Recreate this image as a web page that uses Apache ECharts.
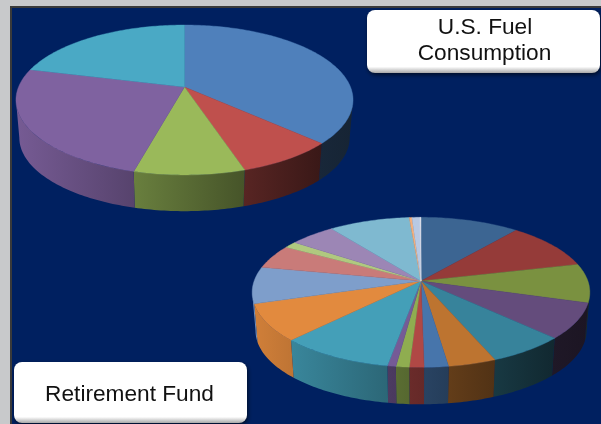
<!DOCTYPE html>
<html>
<head>
<meta charset="utf-8">
<title>U.S. Fuel Consumption and Retirement Fund</title>
<style>
html,body{margin:0;padding:0;background:#c8c9cb}
#chart{width:601px;height:424px}
</style>
<script src="https://cdn.jsdelivr.net/npm/echarts@6/dist/echarts.min.js"></script>
</head>
<body>
<div id="chart"></div>
<script>
// shares, percent of each pie, clockwise from 12 o'clock
const fuelValues = [37, 8.1, 9, 24.9, 21]
const fundValues = [11, 10.3, 8.4, 7.7, 6.5, 4, 2, 1.2, 1.1, 0.7, 9.5, 8, 7.9, 5.2, 1.4, 5.1, 9, 0.3, 0.9, 0.1]

const fuelColors = ['#4f80bb', '#bf504d', '#9ab95a', '#7f62a0', '#4aa9c5']
const fundColors = ['#3c6592', '#953b39', '#7a9140', '#644c7c', '#37839b', '#bd7430',
    '#4775ab', '#b04845', '#8fad50', '#755b96', '#449fb8', '#e28a3e',
    '#7e9ecb', '#c97b79', '#b0c97f', '#9c86b5', '#7fb9d0', '#f5ae78', '#b8c9e3', '#e8e8f0']

// perspective view of a disc: cx, apex y, half width, depth scale, tilt, thickness
const fuelView = {cx: 184.5, ay: 87, s: 166, h: 72.7, k: 0.173, drop: 38, shrink: 0.98}
const fundView = {cx: 421, ay: 281, s: 166.9, h: 73.3, k: 0.151, drop: 38.7, shrink: 0.98}

function project(v, deg, lower) {
    const t = deg * Math.PI / 180
    const w = 1 + v.k * Math.cos(t)
    const f = lower ? v.shrink : 1
    return [v.cx + f * v.s * Math.sin(t) / w, v.ay + (lower ? v.drop : 0) - f * v.h * Math.cos(t) / w]
}

function arcPoints(v, a, b, lower) {
    const pts = []
    const n = Math.max(2, Math.ceil(b - a))
    for (let i = 0; i <= n; i++) pts.push(project(v, a + (b - a) * i / n, lower))
    return pts
}

function shade(hex, f) {
    const n = parseInt(hex.slice(1), 16)
    const c = [n >> 16, (n >> 8) & 255, n & 255].map(x => Math.round(x * f))
    return 'rgb(' + c.join(',') + ')'
}

// the side gets darker from left to right
function wallFactor(v, x) {
    const u = (x - (v.cx - v.s)) / (2 * v.s)
    return Math.max(0.28, 0.92 - 0.68 * u)
}

function sliceAngles(values, i) {
    const total = values.reduce((a, b) => a + b, 0)
    let sum = 0
    for (let j = 0; j < i; j++) sum += values[j]
    return [sum / total * 360, (sum + values[i]) / total * 360]
}

function wallSeries(values, colors, v) {
    // the side is only seen between the widest points of the ellipse
    const edge = Math.acos(-v.k) * 180 / Math.PI
    return {
        type: 'custom',
        coordinateSystem: 'none',
        silent: true,
        animation: false,
        z: 2,
        data: values.map(x => [x]),
        renderItem: function (params) {
            const ang = sliceAngles(values, params.dataIndex)
            const a = Math.max(ang[0], edge)
            const b = Math.min(ang[1], 360 - edge)
            if (b <= a) return null
            const upper = arcPoints(v, a, b, false)
            const lower = arcPoints(v, a, b, true).reverse()
            const xs = upper.concat(lower).map(p => p[0])
            const base = colors[params.dataIndex]
            return {
                type: 'polygon',
                shape: {points: upper.concat(lower)},
                style: {
                    fill: {
                        type: 'linear', x: 0, y: 0, x2: 1, y2: 0,
                        colorStops: [
                            {offset: 0, color: shade(base, wallFactor(v, Math.min.apply(null, xs)))},
                            {offset: 1, color: shade(base, wallFactor(v, Math.max.apply(null, xs)))}
                        ]
                    }
                }
            }
        }
    }
}

function topSeries(values, colors, v) {
    return {
        type: 'custom',
        coordinateSystem: 'none',
        silent: true,
        animation: false,
        z: 3,
        data: values.map(x => [x]),
        renderItem: function (params) {
            const ang = sliceAngles(values, params.dataIndex)
            const c = colors[params.dataIndex]
            return {
                type: 'polygon',
                shape: {points: [[v.cx, v.ay]].concat(arcPoints(v, ang[0], ang[1], false))},
                style: {fill: c, stroke: c, lineWidth: 0.4}
            }
        }
    }
}

function labelBox(x, y, width, height) {
    return {
        type: 'rect',
        z: 10,
        shape: {x: x, y: y, width: width, height: height, r: 8},
        style: {
            fill: {
                type: 'linear', x: 0, y: 0, x2: 0, y2: 1,
                colorStops: [
                    {offset: 0, color: '#ffffff'},
                    {offset: 0.9, color: '#ffffff'},
                    {offset: 1, color: '#a8a8a8'}
                ]
            },
            shadowBlur: 4,
            shadowOffsetX: 1,
            shadowOffsetY: 2,
            shadowColor: 'rgba(0,0,0,0.6)'
        }
    }
}

function labelText(text, x, y, sx) {
    return {
        type: 'text',
        z: 11,
        x: x,
        y: y,
        scaleX: sx,
        style: {
            text: text,
            align: 'center',
            verticalAlign: 'middle',
            font: '22px "Liberation Sans", Arial, sans-serif',
            fill: '#111111'
        }
    }
}

let myChart = echarts.init(document.getElementById('chart'), null, {renderer: 'canvas'})
myChart.setOption({
    animation: false,
    backgroundColor: '#c8c9cb',
    graphic: {
        elements: [
            {type: 'rect', z: 0, shape: {x: 11, y: 7, width: 600, height: 430}, style: {fill: '#002060', stroke: '#3a3a3a', lineWidth: 2}},
            labelBox(367, 10, 233, 63),
            labelText('U.S. Fuel', 485, 28, 1.03),
            labelText('Consumption', 484.5, 54, 1.03),
            labelBox(14, 362, 233, 61),
            labelText('Retirement Fund', 129.5, 395, 1.03)
        ]
    },
    series: [
        wallSeries(fuelValues, fuelColors, fuelView),
        topSeries(fuelValues, fuelColors, fuelView),
        wallSeries(fundValues, fundColors, fundView),
        topSeries(fundValues, fundColors, fundView)
    ]
})
</script>
</body>
</html>
